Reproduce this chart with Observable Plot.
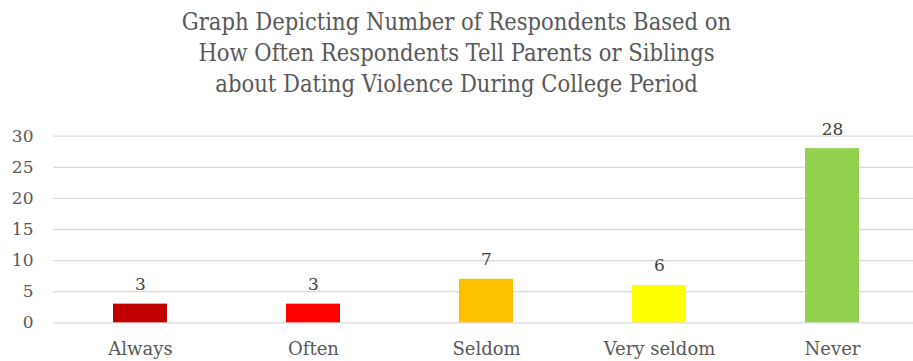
<!DOCTYPE html>
<html>
<head>
<meta charset="utf-8">
<script src="https://cdn.jsdelivr.net/npm/d3@7"></script>
<script src="https://cdn.jsdelivr.net/npm/@observablehq/plot@0.6"></script>
<style>
  html, body { margin: 0; padding: 0; background: #ffffff; overflow: hidden; }
  #title {
    box-sizing: border-box;
    height: 105px;
    padding-top: 7px;
    font-family: "DejaVu Serif Condensed", "Liberation Serif", serif;
    font-size: 23.5px;
    line-height: 31px;
    color: #595959;
    text-align: center;
    width: 913px;
  }
  #chart svg { display: block; }
</style>
</head>
<body>
<div id="title">Graph Depicting Number of Respondents Based on<br>How Often Respondents Tell Parents or Siblings<br>about Dating Violence During College Period</div>
<div id="chart"></div>
<script>
const categories = ["Always", "Often", "Seldom", "Very seldom", "Never"];
const respondents = [3, 3, 7, 6, 28];
const barColors = ["#c00000", "#ff0000", "#ffc000", "#ffff00", "#92d050"];
const yTicks = [0, 5, 10, 15, 20, 25, 30];

const data = categories.map((c, i) => ({category: c, value: respondents[i], color: barColors[i]}));

const chart = Plot.plot({
  width: 913,
  height: 256,
  marginTop: 30.7,
  marginBottom: 38.7,
  marginLeft: 53,
  marginRight: -5,
  style: {fontFamily: "'DejaVu Serif', serif", fontSize: "18px", color: "#595959", background: "#ffffff"},
  x: {domain: categories, paddingInner: 0.69, paddingOuter: 0.345, label: null},
  y: {domain: [0, 30], ticks: yTicks, label: null},
  marks: [
    Plot.ruleY(yTicks, {stroke: "#d9d9d9", strokeWidth: 1.3}),
    Plot.axisY({ticks: yTicks, tickSize: 0, tickPadding: 20, label: null, fontSize: 17}),
    Plot.axisX({tickSize: 0, tickPadding: 19, label: null, fontSize: 18}),
    Plot.barY(data, {x: "category", y: "value", fill: "color"}),
    Plot.text(data, {x: "category", y: "value", text: d => String(d.value), dy: -19.5, fill: "#404040", fontSize: 17})
  ]
});
document.getElementById("chart").appendChild(chart);
</script>
</body>
</html>
